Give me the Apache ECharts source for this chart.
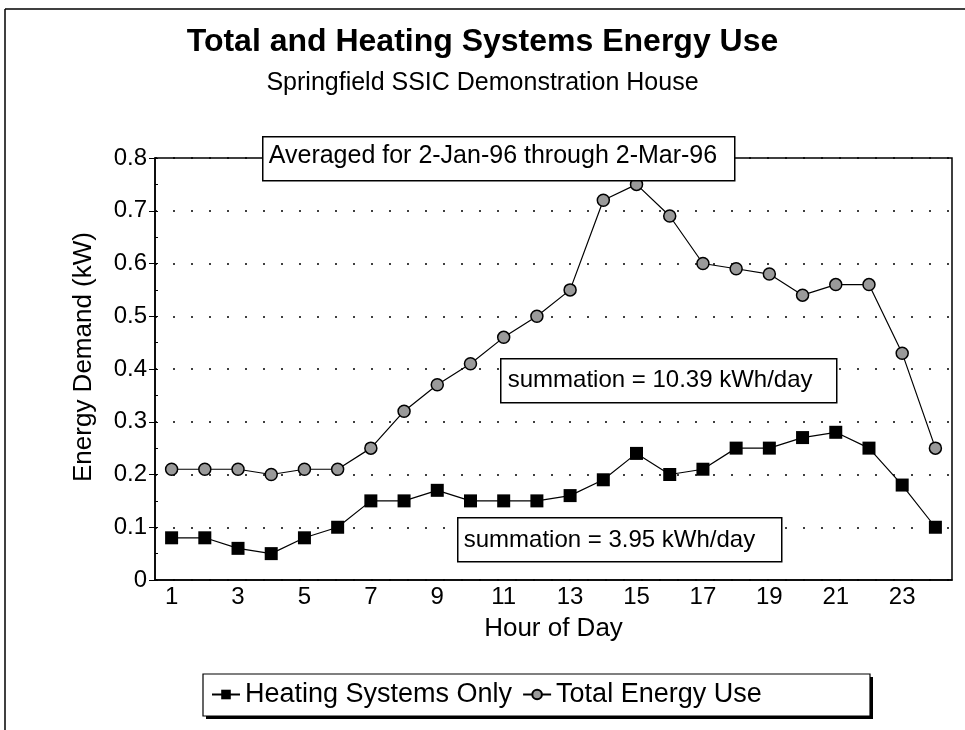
<!DOCTYPE html>
<html>
<head>
<meta charset="utf-8">
<script src="https://cdn.jsdelivr.net/npm/echarts@6/dist/echarts.min.js"></script>
<style>
html,body{margin:0;padding:0;background:#fff;}
#chart{width:965px;height:730px;}
</style>
</head>
<body>
<div id="chart"></div>
<script>
const hours = ['1','2','3','4','5','6','7','8','9','10','11','12','13','14','15','16','17','18','19','20','21','22','23','24'];
const heatingOnly = [0.08,0.08,0.06,0.05,0.08,0.10,0.15,0.15,0.17,0.15,0.15,0.15,0.16,0.19,0.24,0.20,0.21,0.25,0.25,0.27,0.28,0.25,0.18,0.10];
const totalEnergy = [0.21,0.21,0.21,0.20,0.21,0.21,0.25,0.32,0.37,0.41,0.46,0.50,0.55,0.72,0.75,0.69,0.60,0.59,0.58,0.54,0.56,0.56,0.43,0.25];
const seriesNames = ['Heating Systems Only','Total Energy Use'];
const titleText = 'Total and Heating Systems Energy Use';
const subtitleText = 'Springfield SSIC Demonstration House';
const noteText = 'Averaged for 2-Jan-96 through 2-Mar-96';
const totalNote = 'summation = 10.39 kWh/day';
const heatNote = 'summation = 3.95 kWh/day';

const FONT = '"Liberation Sans", Arial, sans-serif';
const chart = echarts.init(document.getElementById('chart'));

function noteBox(x, y, w, h, text, fs, tx, ty) {
  return {
    type: 'group', left: x, top: y, z: 100,
    children: [
      {type: 'rect', z: 100, shape: {x: 0, y: 0, width: w, height: h},
       style: {fill: '#fff', stroke: '#000', lineWidth: 1.5}},
      {type: 'text', z: 101, x: tx, y: ty,
       style: {text: text, fill: '#000', font: fs + 'px ' + FONT, textVerticalAlign: 'middle'}}
    ]
  };
}

chart.setOption({
  animation: false,
  backgroundColor: '#fff',
  title: [
    {text: titleText, left: 'center', top: 21,
     textStyle: {fontFamily: FONT, fontSize: 32, fontWeight: 'bold', color: '#000'}},
    {text: subtitleText, left: 'center', top: 66,
     textStyle: {fontFamily: FONT, fontSize: 25, fontWeight: 'normal', color: '#000'}}
  ],
  grid: {left: 155, right: 13, top: 158, bottom: 150, show: true, borderColor: '#000', borderWidth: 1.5},
  legend: {
    data: seriesNames,
    top: 681, left: 211,
    itemWidth: 28, itemHeight: 12, itemGap: 10,
    padding: 0,
    textStyle: {fontFamily: FONT, fontSize: 27, color: '#000'}
  },
  xAxis: [
    {type: 'category', data: hours, boundaryGap: true,
     name: 'Hour of Day', nameLocation: 'middle', nameGap: 36,
     nameTextStyle: {fontFamily: FONT, fontSize: 26, color: '#000'},
     axisLine: {lineStyle: {color: '#000', width: 1.5}},
     axisTick: {alignWithLabel: true, interval: 0, length: 8, lineStyle: {color: '#000'}},
     axisLabel: {interval: 1, fontFamily: FONT, fontSize: 24, color: '#000', margin: 5},
     splitLine: {show: false}},
    {type: 'category', data: hours, boundaryGap: true, position: 'bottom',
     axisLine: {show: false},
     axisTick: {inside: true, alignWithLabel: true, interval: 0, length: 8, lineStyle: {color: '#000'}},
     axisLabel: {show: false}, splitLine: {show: false}}
  ],
  yAxis: [
    {type: 'value', min: 0, max: 0.8, interval: 0.1,
     name: 'Energy Demand (kW)', nameLocation: 'middle', nameGap: 58,
     nameTextStyle: {fontFamily: FONT, fontSize: 26, color: '#000', padding: [0, 0, 0, 24]},
     axisLine: {show: true, lineStyle: {color: '#000', width: 1.5}},
     axisTick: {show: true, length: 6, lineStyle: {color: '#000'}},
     axisLabel: {fontFamily: FONT, fontSize: 24, color: '#000', margin: 8,
                 formatter: v => (v === 0 ? '0' : v.toFixed(1))},
     splitLine: {show: true, lineStyle: {color: '#000', type: [2, 16], width: 1.5}}},
    {type: 'value', min: 0, max: 0.8, interval: 0.05, position: 'left',
     axisLine: {show: false},
     axisTick: {show: true, inside: true, length: 3, lineStyle: {color: '#000'}},
     axisLabel: {show: false}, splitLine: {show: false}}
  ],
  series: [
    {name: seriesNames[0], type: 'line', data: heatingOnly,
     symbol: 'rect', symbolSize: 13,
     itemStyle: {color: '#000'},
     lineStyle: {color: '#000', width: 1.2}, z: 3},
    {name: seriesNames[1], type: 'line', data: totalEnergy,
     symbol: 'circle', symbolSize: 12,
     itemStyle: {color: '#9a9a9a', borderColor: '#000', borderWidth: 1.5},
     lineStyle: {color: '#000', width: 1.2}, z: 3}
  ],
  graphic: [
    {type: 'line', shape: {x1: 5, y1: 9, x2: 965, y2: 9}, style: {stroke: '#000', lineWidth: 1.5}},
    {type: 'line', shape: {x1: 5, y1: 9, x2: 5, y2: 730}, style: {stroke: '#000', lineWidth: 1.5}},
    {type: 'rect', z: -2, shape: {x: 206, y: 677, width: 667, height: 42}, style: {fill: '#000'}},
    {type: 'rect', z: -1, shape: {x: 203, y: 674, width: 667, height: 42},
     style: {fill: '#fff', stroke: '#000', lineWidth: 1.2}},
    noteBox(262, 136, 472, 44, noteText, 25, 6, 19),
    noteBox(500, 358, 336, 44, totalNote, 24, 7, 22),
    noteBox(457, 517, 324, 44, heatNote, 24, 6, 23)
  ]
});
</script>
</body>
</html>
